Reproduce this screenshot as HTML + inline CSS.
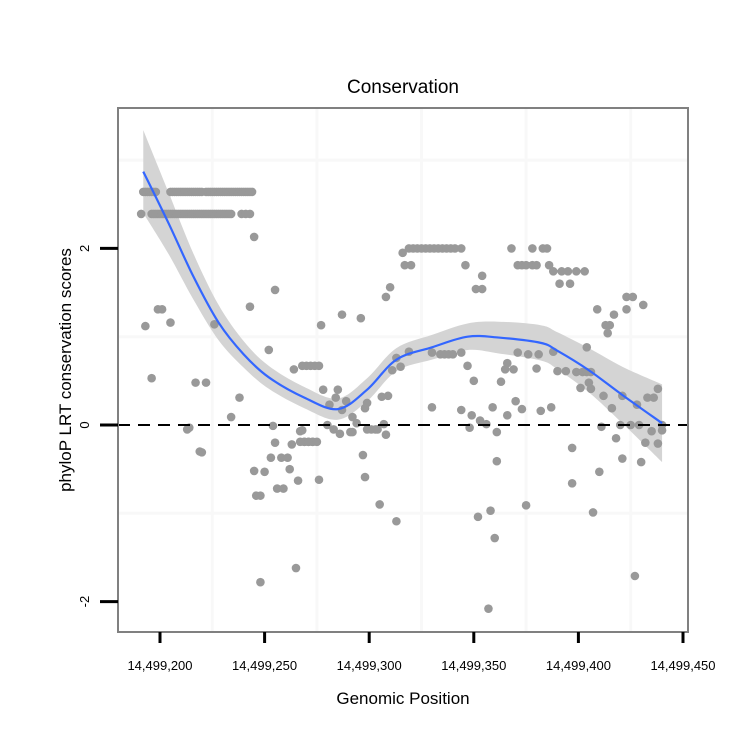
<!DOCTYPE html>
<html><head><meta charset="utf-8"><style>
body{margin:0;background:#fff;}
svg text{font-family:"Liberation Sans",sans-serif;}
</style></head><body>
<svg id="chart" width="750" height="750" xmlns="http://www.w3.org/2000/svg"></svg>
<script>
const xTicks=[14499200,14499250,14499300,14499350,14499400,14499450];
const xTickLabels=["14,499,200","14,499,250","14,499,300","14,499,350","14,499,400","14,499,450"];
const yTicks=[-2,0,2];
const yTickLabels=["-2","0","2"];
const xMinor=[14499225,14499275,14499325,14499375,14499425];
const yMinor=[-1,1,3];
const B=14499000;
const ptPos=[
192,193,194,195,196,197,198,205,206,207,208,209,210,211,212,213,214,215,216,217,218,219,220,222,223,224,225,226,227,228,229,230,231,232,233,234,235,236,237,238,239,240,241,242,243,244,
191,196,197,198,199,200,201,202,203,204,205,206,207,208,209,210,211,212,213,214,215,216,217,218,219,220,221,222,223,224,225,226,227,228,229,230,231,232,233,234,239,241,243,
193,196,199,201,205,214,217,219,222,226,234,238,243,245,252,255,264,268,270,272,274,276,
213,220,254,267,255,263,269,271,273,253,258,261,262,245,250,266,256,259,246,248,265,248,
316,319,321,323,325,327,329,331,333,335,337,339,341,344,317,320,346,354,351,354,310,308,277,287,296,278,285,284,281,289,287,299,298,306,309,313,319,315,311,330,334,336,338,340,344,347,350,330,344,349,353,356,348,359,361,292,294,280,283,286,291,292,299,301,303,304,307,308,268,267,269,271,273,275,297,298,276,305,313,352,358,360,357,361,
368,378,383,385,371,373,375,378,380,386,388,392,395,399,403,391,396,423,426,409,423,431,417,413,415,414,404,371,376,381,388,366,365,369,380,390,394,399,402,404,406,363,405,401,406,412,421,433,436,438,416,428,370,373,382,387,366,411,420,425,429,440,435,440,418,432,438,397,421,430,410,397,375,407,427];
const ptVal=[
2.64,2.64,2.64,2.64,2.64,2.64,2.64,2.64,2.64,2.64,2.64,2.64,2.64,2.64,2.64,2.64,2.64,2.64,2.64,2.64,2.64,2.64,2.64,2.64,2.64,2.64,2.64,2.64,2.64,2.64,2.64,2.64,2.64,2.64,2.64,2.64,2.64,2.64,2.64,2.64,2.64,2.64,2.64,2.64,2.64,2.64,
2.39,2.39,2.39,2.39,2.39,2.39,2.39,2.39,2.39,2.39,2.39,2.39,2.39,2.39,2.39,2.39,2.39,2.39,2.39,2.39,2.39,2.39,2.39,2.39,2.39,2.39,2.39,2.39,2.39,2.39,2.39,2.39,2.39,2.39,2.39,2.39,2.39,2.39,2.39,2.39,2.39,2.39,2.39,
1.12,0.53,1.31,1.31,1.16,-0.03,0.48,-0.3,0.48,1.14,0.09,0.31,1.34,2.13,0.85,1.53,0.63,0.67,0.67,0.67,0.67,0.67,
-0.05,-0.31,-0.01,-0.07,-0.2,-0.22,-0.19,-0.19,-0.19,-0.37,-0.37,-0.37,-0.5,-0.52,-0.53,-0.63,-0.72,-0.72,-0.8,-0.8,-1.62,-1.78,
1.95,2.0,2.0,2.0,2.0,2.0,2.0,2.0,2.0,2.0,2.0,2.0,2.0,2.0,1.81,1.81,1.81,1.69,1.54,1.54,1.56,1.45,1.13,1.25,1.21,0.4,0.4,0.31,0.23,0.27,0.17,0.25,0.19,0.32,0.33,0.76,0.83,0.66,0.62,0.82,0.8,0.8,0.8,0.8,0.82,0.67,0.5,0.2,0.17,0.11,0.05,0.01,-0.03,0.2,-0.08,0.09,0.02,0,-0.05,-0.1,-0.08,-0.08,-0.05,-0.05,-0.05,-0.05,0.01,-0.11,-0.06,-0.19,-0.19,-0.19,-0.19,-0.19,-0.34,-0.59,-0.62,-0.9,-1.09,-1.04,-0.97,-1.28,-2.08,-0.41,
2.0,2.0,2.0,2.0,1.81,1.81,1.81,1.81,1.81,1.81,1.74,1.74,1.74,1.74,1.74,1.6,1.6,1.45,1.45,1.31,1.31,1.36,1.25,1.13,1.13,1.04,0.88,0.82,0.8,0.8,0.83,0.7,0.63,0.63,0.64,0.61,0.61,0.6,0.6,0.6,0.6,0.49,0.48,0.42,0.41,0.33,0.33,0.31,0.31,0.41,0.19,0.23,0.27,0.18,0.16,0.2,0.11,-0.02,0,0,0,0,-0.07,-0.06,-0.15,-0.2,-0.21,-0.26,-0.38,-0.42,-0.53,-0.66,-0.91,-0.99,-1.71];
const fitPos=[192,204,216,228,240,252,269,285,299,313,330,347,362,382,390,405,421,440];
const fitVal=[2.87,2.29,1.68,1.16,0.8,0.54,0.31,0.18,0.4,0.74,0.88,1.0,0.99,0.93,0.84,0.62,0.34,0.02];
const fitSe=[0.47,0.35,0.26,0.2,0.15,0.13,0.12,0.12,0.13,0.13,0.14,0.15,0.18,0.2,0.21,0.25,0.32,0.44];

const svg=document.getElementById('chart');
const NS='http://www.w3.org/2000/svg';
const L=118,R=688,T=108,Bm=632;
const xs=v=>160+(v-14499200)*523/250;
const ys=v=>425-v*88.3;
function mk(tag,attrs,parent){const e=document.createElementNS(NS,tag);for(const k in attrs)e.setAttribute(k,attrs[k]);(parent||svg).appendChild(e);return e;}
function smooth(pts){let d='M'+pts[0][0]+','+pts[0][1];for(let i=0;i<pts.length-1;i++){const p0=pts[Math.max(0,i-1)],p1=pts[i],p2=pts[i+1],p3=pts[Math.min(pts.length-1,i+2)];const c1=[p1[0]+(p2[0]-p0[0])/6,p1[1]+(p2[1]-p0[1])/6],c2=[p2[0]-(p3[0]-p1[0])/6,p2[1]-(p3[1]-p1[1])/6];d+=' C'+c1[0]+','+c1[1]+' '+c2[0]+','+c2[1]+' '+p2[0]+','+p2[1];}return d;}

const t=mk('text',{x:403,y:93,'font-size':19,'text-anchor':'middle',fill:'#000'});t.textContent='Conservation';



const grid=mk('g',{});


xMinor.forEach(v=>{const l=mk('line',{x1:xs(v),x2:xs(v),y1:T,y2:Bm,stroke:'#f8f8f8','stroke-width':3},grid);

});
yMinor.forEach(v=>{const l=mk('line',{x1:L,x2:R,y1:ys(v),y2:ys(v),stroke:'#f8f8f8','stroke-width':3},grid);

});

const upper=fitPos.map((p,i)=>[xs(B+p),ys(fitVal[i]+fitSe[i])]);
const lower=fitPos.map((p,i)=>[xs(B+p),ys(fitVal[i]-fitSe[i])]).reverse();
const lowerPath=smooth(lower).replace(/^M/,'L');
const band=mk('path',{d:smooth(upper)+' '+lowerPath+' Z',fill:'#d4d4d4'});



const pg=mk('g',{fill:'#999999'});


ptPos.forEach((p,i)=>{const c=mk('circle',{cx:xs(B+p),cy:ys(ptVal[i]),r:4.3},pg);

});

const fit=mk('path',{d:smooth(fitPos.map((p,i)=>[xs(B+p),ys(fitVal[i])])),fill:'none',stroke:'#3366ff','stroke-width':2.2});



const zl=mk('line',{x1:L,x2:R,y1:ys(0),y2:ys(0),stroke:'#000','stroke-width':2,'stroke-dasharray':'12,8'});



const fr=mk('rect',{x:L,y:T,width:R-L,height:Bm-T,fill:'none',stroke:'#808080','stroke-width':2});



xTicks.forEach((v,i)=>{const l=mk('line',{x1:xs(v),x2:xs(v),y1:Bm,y2:Bm+11,stroke:'#000','stroke-width':3});


const tx=mk('text',{x:xs(v),y:670,'font-size':13,'text-anchor':'middle',fill:'#000'});tx.textContent=xTickLabels[i];

});
yTicks.forEach((v,i)=>{const l=mk('line',{x1:L-18,x2:L,y1:ys(v),y2:ys(v),stroke:'#000','stroke-width':3});


const tx=mk('text',{x:0,y:0,'font-size':13,'text-anchor':'middle',fill:'#000',transform:'translate(89,'+ys(v)+') rotate(-90)'});tx.textContent=yTickLabels[i];

});

const xt=mk('text',{x:403,y:704,'font-size':17,'text-anchor':'middle',fill:'#000'});xt.textContent='Genomic Position';


const yt=mk('text',{x:0,y:0,'font-size':17,'text-anchor':'middle',fill:'#000',transform:'translate(71,370) rotate(-90)'});yt.textContent='phyloP LRT conservation scores';


</script>
</body></html>
